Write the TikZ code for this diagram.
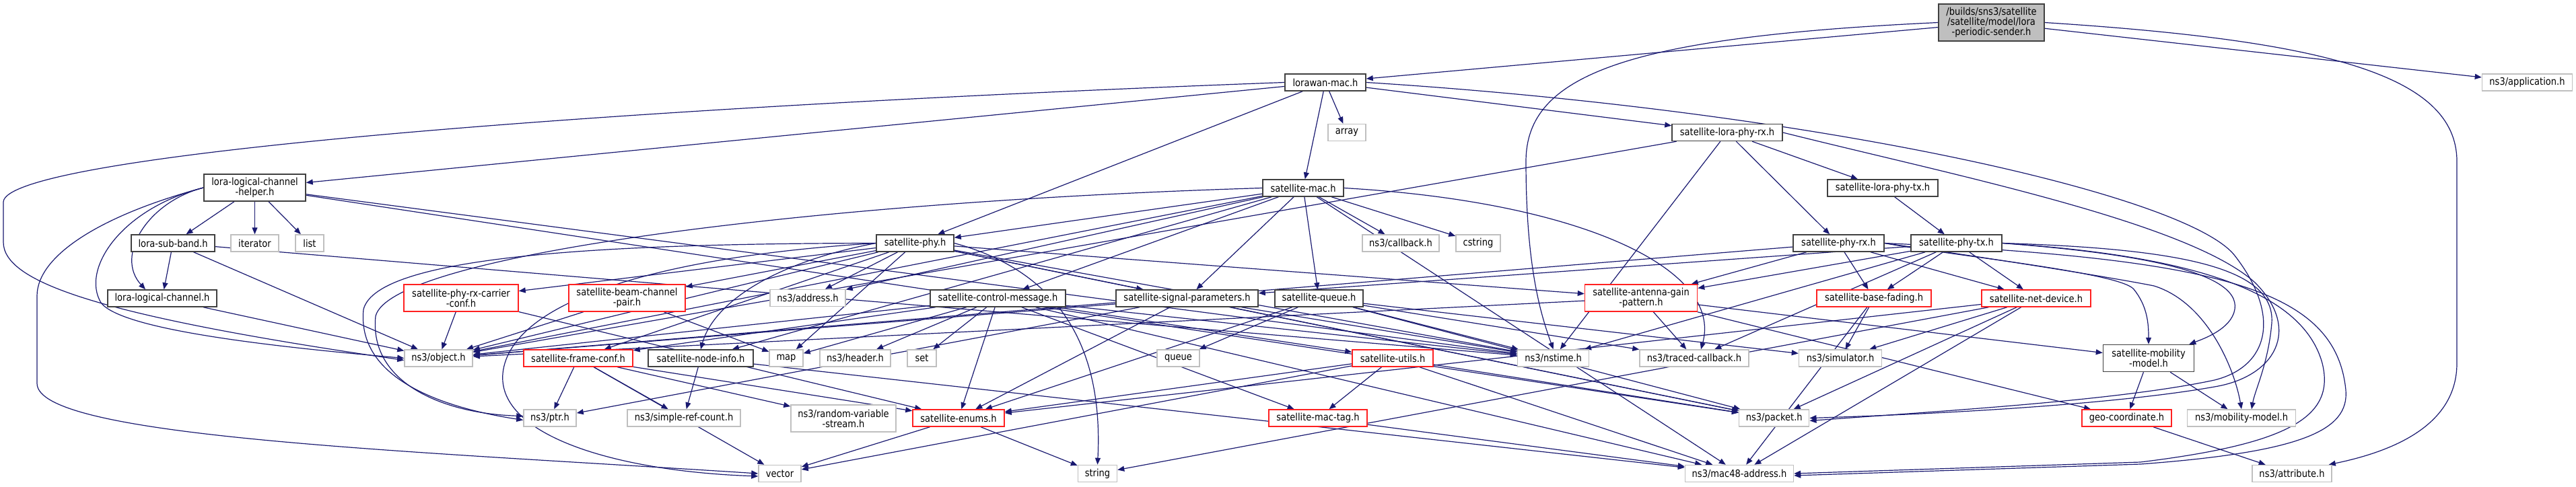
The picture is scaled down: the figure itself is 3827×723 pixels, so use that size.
\documentclass[tikz,border=0pt]{standalone}
\usepackage{fontspec}
\newfontfamily\dxfont{DejaVu Sans}[FakeStretch=0.87]
\usetikzlibrary{arrows.meta,backgrounds}

\definecolor{edgeblue}{HTML}{191970}
\definecolor{sysgray}{HTML}{BFBFBF}
\definecolor{boxdark}{HTML}{404040}
\definecolor{cutred}{HTML}{FF2020}

\tikzset{
  hdr/.style={draw=boxdark, fill=white, line width=1.5pt, inner sep=0pt,
    minimum height=25pt, align=center, font=\dxfont\fontsize{15pt}{15pt}\selectfont},
  sys/.style={hdr, draw=sysgray},
  cut/.style={hdr, draw=cutred},
  main/.style={hdr, fill=sysgray},
  dep/.style={draw=edgeblue, line width=1.2pt, -{Triangle[length=10pt,width=8pt]}},
}

\begin{document}
\begin{tikzpicture}[x=1pt,y=-1pt]
  \useasboundingbox (0,0) rectangle (3827,723);

  % rank 0 and 1
  \node[main, minimum width=157pt, minimum height=55pt] (top) at (2958.5,33.5)
    {/builds/sns3/satellite\\/satellite/model/lora\\-periodic-sender.h};
  \node[hdr, minimum width=120pt] (lorawan) at (1969,122.5) {lorawan-mac.h};
  \node[sys, minimum width=134pt] (app) at (3754.5,122.5) {ns3/application.h};

  % rank 2 and 3
  \node[sys, minimum width=56pt] (array) at (2001,197) {array};
  \node[hdr, minimum width=164pt] (lorarx) at (2566,197) {satellite-lora-phy-rx.h};
  \node[hdr, minimum width=151pt, minimum height=40pt] (helper) at (378.5,279)
    {lora-logical-channel\\-helper.h};
  \node[hdr, minimum width=120pt] (satmac) at (1936,279.5) {satellite-mac.h};
  \node[hdr, minimum width=164pt] (loratx) at (2797,279.5) {satellite-lora-phy-tx.h};

  % rank 4
  \node[hdr, minimum width=124pt] (subband) at (257,361.5) {lora-sub-band.h};
  \node[sys, minimum width=71pt] (iterator) at (378.5,361.5) {iterator};
  \node[sys, minimum width=42pt] (list) at (460,361.5) {list};
  \node[hdr, minimum width=115pt] (satphy) at (1359.5,361.5) {satellite-phy.h};
  \node[sys, minimum width=114pt] (callback) at (2081,361.5) {ns3/callback.h};
  \node[sys, minimum width=66pt] (cstring) at (2196,361.5) {cstring};
  \node[hdr, minimum width=135pt] (phyrx) at (2731.5,361.5) {satellite-phy-rx.h};
  \node[hdr, minimum width=135pt] (phytx) at (2906.5,361.5) {satellite-phy-tx.h};

  % rank 5
  \node[hdr, minimum width=162pt] (logical) at (241,443.5) {lora-logical-channel.h};
  \node[cut, minimum width=170pt, minimum height=40pt] (carrier) at (685,443)
    {satellite-phy-rx-carrier\\-conf.h};
  \node[cut, minimum width=173pt, minimum height=40pt] (beampair) at (931.5,443)
    {satellite-beam-channel\\-pair.h};
  \node[sys, minimum width=112pt] (address) at (1200,443) {ns3/address.h};
  \node[hdr, minimum width=201pt] (ctrlmsg) at (1482.5,443.5) {satellite-control-message.h};
  \node[hdr, minimum width=211pt] (sigpar) at (1763.5,443.5) {satellite-signal-parameters.h};
  \node[hdr, minimum width=131pt] (queueh) at (1959.5,443.5) {satellite-queue.h};
  \node[cut, minimum width=167pt, minimum height=40pt] (antenna) at (2438,443)
    {satellite-antenna-gain\\-pattern.h};
  \node[cut, minimum width=170pt] (fading) at (2784,443.5) {satellite-base-fading.h};
  \node[cut, minimum width=162pt] (netdev) at (3025,443.5) {satellite-net-device.h};

  % rank 6
  \node[sys, minimum width=101pt] (object) at (651.5,532.5) {ns3/object.h};
  \node[cut, minimum width=162pt] (frameconf) at (859,532.5) {satellite-frame-conf.h};
  \node[hdr, minimum width=156pt] (nodeinfo) at (1041,532.5) {satellite-node-info.h};
  \node[sys, minimum width=50pt] (map) at (1168,532.5) {map};
  \node[sys, minimum width=105pt] (header) at (1270.5,532.5) {ns3/header.h};
  \node[sys, minimum width=43pt] (set) at (1369.5,532.5) {set};
  \node[sys, minimum width=63pt] (queue) at (1750.5,532.5) {queue};
  \node[cut, minimum width=120pt] (utils) at (2069,532.5) {satellite-utils.h};
  \node[sys, minimum width=106pt] (nstime) at (2307.6,532.5) {ns3/nstime.h};
  \node[sys, minimum width=162pt] (traced) at (2517,532.5) {ns3/traced-callback.h};
  \node[sys, minimum width=123pt] (simulator) at (2734,532.5) {ns3/simulator.h};
  \node[hdr, minimum width=135pt, minimum height=40pt] (mobility) at (3192,532.5)
    {satellite-mobility\\-model.h};

  % rank 7
  \node[sys, minimum width=78pt] (ptr) at (817,621.5) {ns3/ptr.h};
  \node[sys, minimum width=168pt] (refcount) at (1016,621.5) {ns3/simple-ref-count.h};
  \node[sys, minimum width=156pt, minimum height=40pt] (random) at (1253,622)
    {ns3/random-variable\\-stream.h};
  \node[cut, minimum width=136pt] (enums) at (1424,621.5) {satellite-enums.h};
  \node[cut, minimum width=146pt] (mactag) at (1958,621.5) {satellite-mac-tag.h};
  \node[sys, minimum width=104pt] (packet) at (2635.7,621.5) {ns3/packet.h};
  \node[cut, minimum width=133pt] (geo) at (3159.5,621.5) {geo-coordinate.h};
  \node[sys, minimum width=161pt] (mobmodel) at (3330,621.5) {ns3/mobility-model.h};

  % rank 8
  \node[sys, minimum width=63pt] (vector) at (1158.5,704) {vector};
  \node[sys, minimum width=58pt] (string) at (1630.5,704) {string};
  \node[sys, minimum width=161pt] (mac48) at (2584,704) {ns3/mac48-address.h};
  \node[sys, minimum width=118pt] (attribute) at (3405,704) {ns3/attribute.h};

  \begin{pgfonlayer}{background}
    \foreach \src/\dst in {top/lorawan, top/app,
        lorawan/helper, lorawan/satphy, lorawan/array, lorawan/satmac, lorawan/lorarx,
        helper/subband, helper/iterator, helper/list, helper/nstime, helper/packet,
        subband/logical, subband/object, subband/nstime, logical/object,
        lorarx/loratx, lorarx/phyrx, lorarx/nstime, lorarx/object, loratx/phytx,
        satmac/satphy, satmac/ctrlmsg, satmac/sigpar, satmac/queueh, satmac/callback,
        satmac/cstring, satmac/address, satmac/nodeinfo, satmac/object, satmac/mac48,
        satphy/carrier, satphy/beampair, satphy/frameconf, satphy/address, satphy/map,
        satphy/sigpar, satphy/nstime, satphy/antenna, satphy/packet, satphy/object,
        carrier/object, carrier/enums, beampair/object, beampair/map,
        ctrlmsg/object, ctrlmsg/header, ctrlmsg/set, ctrlmsg/enums, ctrlmsg/mactag,
        ctrlmsg/mac48, ctrlmsg/nstime, ctrlmsg/map, ctrlmsg/frameconf, ctrlmsg/utils,
        sigpar/object, sigpar/ptr, sigpar/enums, sigpar/nstime, sigpar/packet,
        queueh/queue, queueh/nstime, queueh/packet, queueh/traced, queueh/enums,
        queueh/simulator,
        antenna/object, antenna/traced, antenna/geo, antenna/mobility,
        phyrx/fading, phyrx/netdev, phyrx/antenna, phyrx/object,
        phytx/fading, phytx/netdev, phytx/antenna, phytx/sigpar, phytx/traced, phytx/nstime,
        fading/simulator, fading/mac48,
        netdev/simulator, netdev/packet, netdev/mac48, netdev/enums, netdev/string,
        utils/mactag, utils/vector, utils/mac48, utils/packet, utils/enums,
        mactag/mac48, nodeinfo/refcount, nodeinfo/mac48,
        frameconf/ptr, frameconf/vector, frameconf/refcount, frameconf/random, frameconf/enums,
        enums/vector, enums/string, mobility/geo, mobility/mobmodel, geo/attribute}
      \draw[dep] (\src) -- (\dst);

    % long routed connectors
    \draw[dep] (top.west) .. controls (2420,55) and (2267,110) .. (2267,240)
      .. controls (2267,400) and (2290,470) .. (nstime.north);
    \draw[dep] (top.east) .. controls (3450,60) and (3650,110) .. (3650,240) -- (3650,540)
      .. controls (3650,630) and (3560,670) .. ([xshift=-5pt]attribute.north east);
    \draw[dep] (lorawan.west) .. controls (900,160) and (10,230) .. (5,300) -- (5,360)
      .. controls (5,420) and (150,470) .. ([yshift=-3pt]object.west);
    \draw[dep] (lorawan.east) .. controls (2700,165) and (3250,290) .. (3320,380)
      .. controls (3390,470) and (3370,545) .. (3290,565)
      .. controls (3150,595) and (2900,610) .. ([yshift=-4pt]packet.east);
    \draw[dep] (lorarx.east) .. controls (2900,260) and (3250,330) .. (3350,420)
      .. controls (3420,490) and (3380,560) .. (3290,575)
      .. controls (3150,600) and (2900,615) .. (packet.east);
    \draw[dep] (helper.west) .. controls (220,300) and (170,380) .. ([xshift=-25pt]logical.north);
    \draw[dep] (helper.west) .. controls (180,310) and (120,400) .. (150,450)
      .. controls (180,490) and (400,515) .. (object.west);
    \draw[dep] (helper.west) .. controls (150,320) and (55,380) .. (55,440) -- (55,570)
      .. controls (55,650) and (600,670) .. (vector.west);
    \draw[dep] (satphy.west) .. controls (900,362) and (560,380) .. (540,460)
      .. controls (530,560) and (650,605) .. ([yshift=-3pt]ptr.west);
    \draw[dep] (satmac.west) .. controls (1200,300) and (580,380) .. (558,470)
      .. controls (548,570) and (660,615) .. ([yshift=3pt]ptr.west);
    \draw[dep] (satphy.west) .. controls (1000,380) and (780,440) .. (750,540)
      .. controls (720,640) and (900,700) .. ([yshift=-4pt]vector.west);
    \draw[dep] (satphy.west) .. controls (1150,390) and (1060,450) .. (nodeinfo.north);
    \draw[dep] (satphy.east) .. controls (1560,400) and (1640,500) .. (string.north);
    \draw[dep] (satmac.east) .. controls (2350,300) and (2560,400) .. ([xshift=10pt]traced.north);
    \draw[dep] (phytx.east) .. controls (3250,380) and (3420,430) .. (3450,540)
      .. controls (3470,620) and (3400,660) .. (3180,687) -- (mac48.east);
    \draw[dep] (phyrx.east) .. controls (3300,385) and (3470,430) .. (3485,580)
      .. controls (3490,640) and (3420,672) .. (3180,690) -- ([yshift=-3pt]mac48.east);
    \draw[dep] (phyrx.east) .. controls (2900,380) and (3150,405) .. (3170,430)
      .. controls (3190,455) and (3192,480) .. (mobility.north);
    \draw[dep] (phytx.east) .. controls (3150,375) and (3330,400) .. (3320,460)
      .. controls (3315,490) and (3270,505) .. ([xshift=-8pt]mobility.north east);
    \draw[dep] (phyrx.east) .. controls (3000,390) and (3150,415) .. (3200,425)
      .. controls (3280,450) and (3320,550) .. (mobmodel.north);
    \draw[dep] (phytx.east) .. controls (3250,370) and (3380,400) .. (3375,480)
      .. controls (3370,540) and (3350,580) .. ([xshift=15pt]mobmodel.north);
  \end{pgfonlayer}
\end{tikzpicture}
\end{document}
